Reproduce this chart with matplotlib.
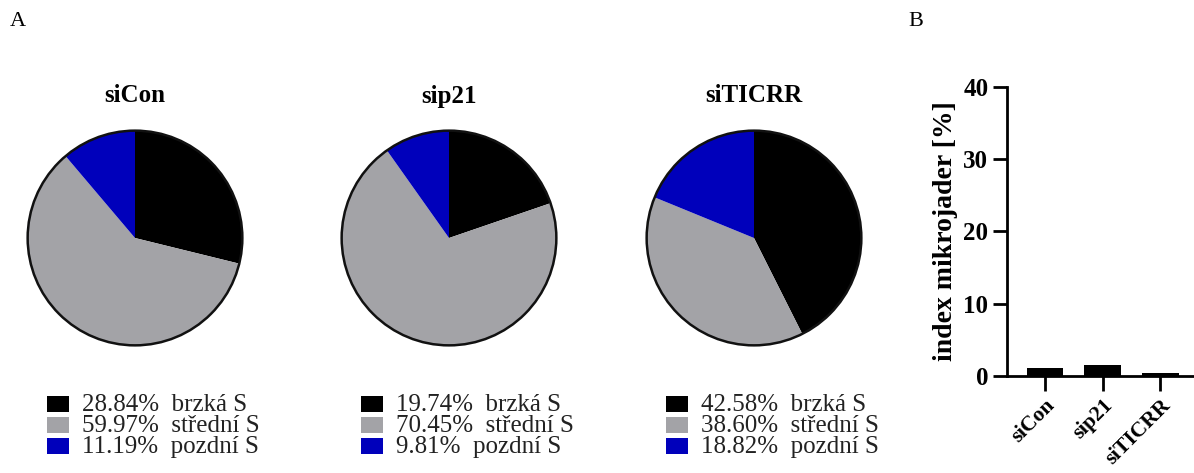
import numpy as np
from matplotlib import pyplot as plt
from matplotlib.patches import Rectangle

# DATA
samples = ['siCon', 'sip21', 'siTICRR']
phases = ['brzká S', 'střední S', 'pozdní S']
shares = {
    'siCon': [28.84, 59.97, 11.19],
    'sip21': [19.74, 70.45, 9.81],
    'siTICRR': [42.58, 38.60, 18.82],
}
mn_index = [1.1, 1.5, 0.35]
y_ticks = [0, 10, 20, 30, 40]

colors = ['#000000', '#a3a3a7', '#0000bb']

plt.rcParams['font.family'] = ['Liberation Serif', 'DejaVu Serif']

W, H = 1194, 473
fig = plt.figure(figsize=(W / 100, H / 100), dpi=100)


def fx(px):
    return px / W


def fy(py):
    return 1 - py / H


# pie centres (pixels) and radius
centres = [135, 449, 754]
cy = 238
r = 109.5

for k in range(len(samples)):
    name = samples[k]
    cx = centres[k]
    ax = fig.add_axes([fx(cx - r), fy(cy + r), r * 2 / W, r * 2 / H])
    ax.pie(shares[name], colors=colors, startangle=90, counterclock=False,
           wedgeprops=dict(linewidth=0))
    # outline
    ax.add_patch(plt.Circle((0, 0), 1, fill=False, lw=1.8, color='#111111'))
    ax.set_xlim(-1.02, 1.02)
    ax.set_ylim(-1.02, 1.02)
    ax.set_aspect('auto')
    ax.axis('off')

    fig.text(fx(cx), fy(96), name, ha='center', va='center',
             fontsize=18, fontweight='bold')

    # legend rows
    for j in range(len(phases)):
        ry = 404 + j * 20.8
        fig.add_artist(Rectangle((fx(cx - 88), fy(ry + 8)), 22 / W, 16 / H,
                                 transform=fig.transFigure,
                                 facecolor=colors[j], edgecolor='none'))
        fig.text(fx(cx - 53), fy(ry + 1),
                 '%.2f%%  %s' % (shares[name][j], phases[j]),
                 ha='left', va='center', fontsize=18, color='#222222')

fig.text(fx(10), fy(22), 'A', ha='left', va='center', fontsize=16)
fig.text(fx(908), fy(22), 'B', ha='left', va='center', fontsize=16)

# bar chart
axb = fig.add_axes([fx(1007), fy(376), fx(1193) - fx(1007), fy(87) - fy(376)])
x = np.arange(len(samples))
axb.bar(x, mn_index, width=0.64, color='black')
axb.set_xlim(-0.66, 2.57)
axb.set_ylim(0, 40)
axb.set_yticks(y_ticks)
axb.set_xticks(x)
axb.set_xticklabels(samples, rotation=45, ha='right', rotation_mode='anchor',
                    fontsize=15.5, fontweight='bold')
for lab in axb.get_yticklabels():
    lab.set_fontweight('bold')
    lab.set_fontsize(18)
axb.tick_params(axis='both', width=2, length=10)
axb.tick_params(axis='x', length=11, pad=3)
for s in ['top', 'right']:
    axb.spines[s].set_visible(False)
for s in ['left', 'bottom']:
    axb.spines[s].set_linewidth(2)
axb.set_ylabel('index mikrojader [%]', fontsize=20, fontweight='bold',
               labelpad=4)

fig.savefig('out.png', dpi=100)
